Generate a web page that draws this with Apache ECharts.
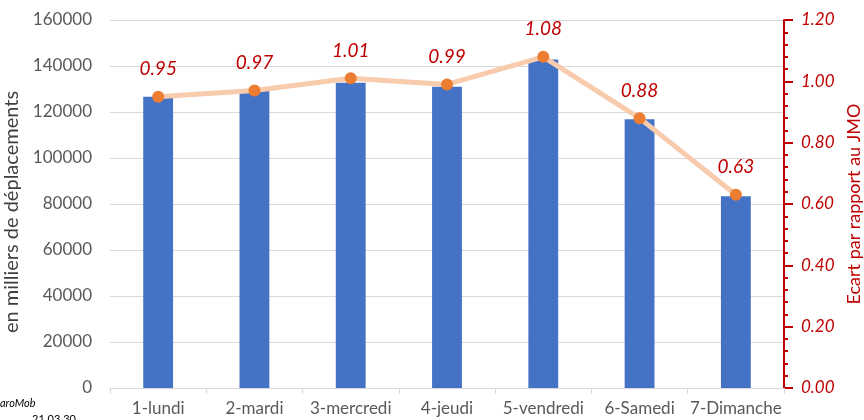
<!DOCTYPE html>
<html>
<head>
<meta charset="utf-8">
<script src="https://cdn.jsdelivr.net/npm/echarts@6/dist/echarts.min.js"></script>
<style>
  html, body { margin: 0; padding: 0; background: #fff; }
  #chart { width: 864px; height: 420px; }
</style>
</head>
<body>
<div id="chart"></div>
<script>
const days = ['1-lundi', '2-mardi', '3-mercredi', '4-jeudi', '5-vendredi', '6-Samedi', '7-Dimanche']
const trips = [126600, 129100, 132700, 131000, 142800, 116900, 83400]
const ratio = [0.95, 0.97, 1.01, 0.99, 1.08, 0.88, 0.63]

const font = 'Lato'
const chart = echarts.init(document.getElementById('chart'))
chart.setOption({
  animation: false,
  grid: { left: 110, right: 80, top: 20, bottom: 32, containLabel: false, outerBoundsMode: 'none' },
  xAxis: {
    type: 'category',
    data: days,
    axisLine: { lineStyle: { color: '#D9D9D9', width: 1 } },
    axisTick: { show: true, length: 6, lineStyle: { color: '#D9D9D9' } },
    axisLabel: { color: '#595959', fontSize: 17, margin: 12, interval: 0, fontFamily: font },
  },
  yAxis: [
    {
      type: 'value',
      min: 0,
      max: 160000,
      interval: 20000,
      name: 'en milliers de déplacements',
      nameLocation: 'middle',
      nameGap: 79,
      nameTextStyle: { color: '#404040', fontSize: 20, fontFamily: font, padding: [0, 16, 0, 0] },
      axisLine: { show: false },
      axisTick: { show: false },
      axisLabel: { color: '#595959', fontSize: 17, margin: 18, fontFamily: font, formatter: v => String(v) },
      splitLine: { lineStyle: { color: '#D9D9D9', width: 1 } },
    },
    {
      type: 'value',
      min: 0,
      max: 1.2,
      interval: 0.2,
      position: 'right',
      name: 'Ecart par rapport au JMO',
      nameLocation: 'middle',
      nameGap: 60,
      nameRotate: 90,
      nameTextStyle: { color: '#C00000', fontSize: 18, fontFamily: font },
      axisLine: { show: true, lineStyle: { color: '#C00000', width: 2 } },
      axisTick: { show: true, length: 9, lineStyle: { color: '#C00000', width: 2 } },
      minorTick: { show: true, splitNumber: 5, length: 4, lineStyle: { color: '#C00000', width: 2 } },
      axisLabel: {
        color: '#C00000', fontSize: 17, fontStyle: 'italic', margin: 17, fontFamily: font,
        formatter: v => v.toFixed(2),
      },
      splitLine: { show: false },
    },
  ],
  series: [
    {
      name: 'Déplacements',
      type: 'bar',
      data: trips,
      barWidth: '31%',
      itemStyle: { color: '#4472C4' },
    },
    {
      name: 'Ecart',
      type: 'line',
      yAxisIndex: 1,
      data: ratio,
      symbol: 'circle',
      symbolSize: 12,
      lineStyle: { color: '#F8CBAD', width: 5 },
      itemStyle: { color: '#ED7D31' },
      label: {
        show: true,
        position: 'top',
        distance: 12,
        color: '#C00000',
        fontSize: 19,
        fontStyle: 'italic',
        fontFamily: font,
        formatter: p => p.value.toFixed(2),
      },
    },
  ],
  graphic: [
    { type: 'text', left: 0, top: 398, style: { text: 'aroMob', fontSize: 11, fontStyle: 'italic', fill: '#000', fontFamily: font } },
    { type: 'text', left: 32, top: 414, style: { text: '21 03 30', fontSize: 11, fill: '#000', fontFamily: font } },
  ],
})
</script>
</body>
</html>
